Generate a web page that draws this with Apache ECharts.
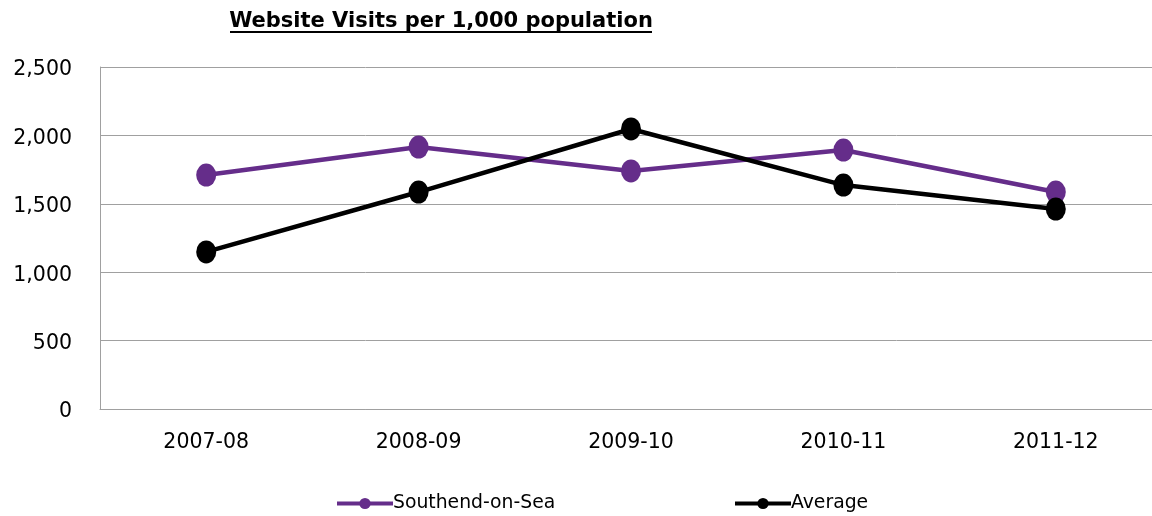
<!DOCTYPE html>
<html><head><meta charset="utf-8">
<script src="https://cdn.jsdelivr.net/npm/echarts@6/dist/echarts.min.js"></script>
<style>html,body{margin:0;padding:0;background:#fff;overflow:hidden}#c{width:1162px;height:516px}</style>
</head><body><div id="c"></div>
<script>
const categories = ['2007-08','2008-09','2009-10','2010-11','2011-12'];
const southend = [1710, 1915, 1740, 1893, 1586];
const average = [1148, 1586, 2047, 1637, 1462];
const yTicks = [0, 500, 1000, 1500, 2000, 2500];

const chart = echarts.init(document.getElementById('c'));
const font = 'DejaVu Sans, Verdana, sans-serif';
const legendCommon = {
  bottom: 3, padding: 0, itemWidth: 56, itemHeight: 14,
  lineStyle: {width: 4},
  textStyle: {fontFamily: font, fontSize: 18.8, color: '#000', padding: [0,0,0,-5]}
};
chart.setOption({
  animation: false,
  title: {
    text: 'Website Visits per 1,000 population',
    left: 441, top: 11, textAlign: 'center', padding: 0,
    textStyle: {fontFamily: font, fontSize: 21, fontWeight: 'bold', color: '#000'}
  },
  graphic: [{type: 'line', shape: {x1: 230, y1: 32, x2: 652, y2: 32}, style: {stroke: '#000', lineWidth: 2}}],
  legend: [
    Object.assign({left: 335, data: ['Southend-on-Sea']}, legendCommon),
    Object.assign({left: 733, data: ['Average']}, legendCommon)
  ],
  grid: {left: 100, top: 67, right: 0, height: 342},
  xAxis: {
    type: 'category', data: categories, boundaryGap: true,
    axisLine: {lineStyle: {color: '#a0a0a0'}},
    axisTick: {show: false},
    axisLabel: {fontFamily: font, fontSize: 20.5, color: '#000', margin: 23}
  },
  yAxis: {
    type: 'value', min: 0, max: 2500, interval: 500,
    axisLine: {show: true, lineStyle: {color: '#a0a0a0'}},
    axisTick: {show: false},
    splitLine: {lineStyle: {color: '#a0a0a0'}},
    axisLabel: {fontFamily: font, fontSize: 20.5, color: '#000', margin: 28,
      formatter: v => '{a|' + v.toLocaleString('en-US') + '}',
      rich: {a: {fontFamily: font, fontSize: 20.5, color: '#000', padding: [6, 0, 0, 0]}}}
  },
  series: [
    {name: 'Southend-on-Sea', type: 'line', data: southend, symbol: 'circle', symbolSize: [20, 23],
      color: '#652d8a', lineStyle: {width: 4.5, color: '#652d8a'}, itemStyle: {color: '#652d8a'}},
    {name: 'Average', type: 'line', data: average, symbol: 'circle', symbolSize: [20, 23],
      color: '#000', lineStyle: {width: 4.5, color: '#000'}, itemStyle: {color: '#000'}}
  ]
});
</script></body></html>
